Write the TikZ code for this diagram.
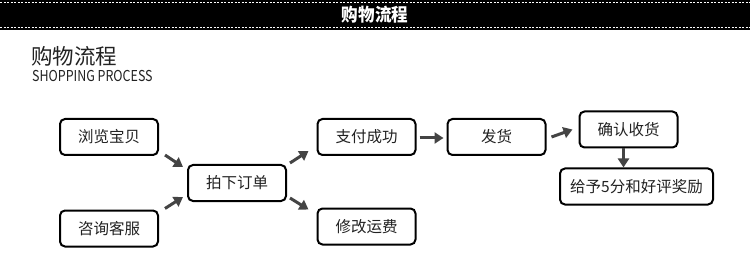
\documentclass[tikz,border=0pt]{standalone}
\usepackage{fontspec}
\setmainfont{Noto Sans CJK SC}
\usetikzlibrary{arrows.meta,calc}
\definecolor{txt}{HTML}{222222}
\definecolor{arrc}{HTML}{444444}
\tikzset{
  box/.style={draw=black, line width=2pt, rounded corners=5pt, minimum height=36pt, minimum width=98pt, inner sep=0pt, font=\fontsize{15.5}{15.5}\selectfont, text=txt},
  arr/.style={draw=arrc, line width=3pt, -{Triangle[length=9pt,width=11pt]}},
}
\begin{document}
\begin{tikzpicture}[x=1pt,y=-1pt]
\useasboundingbox (0,0) rectangle (750,259);
\fill[white] (0,0) rectangle (750,259);
% top band
\fill[black] (0,0) rectangle (750,30);
\draw[white, line width=1.2pt, dash pattern=on 2pt off 1.5pt] (0,2.5) -- (750,2.5);
\draw[white, line width=1.2pt, dash pattern=on 2pt off 1.5pt] (0,27.5) -- (750,27.5);
\node[text=white, font=\fontsize{18}{18}\selectfont\bfseries, inner sep=0pt] (bandtitle) at (375,15) {\scalebox{0.92}[1]{购物流程}};
% heading
\node[anchor=west, text=txt, font=\fontsize{21.5}{21.5}\selectfont, inner sep=0pt] (head) at (31,56) {购物流程};
\node[anchor=west, text=txt, font=\fontsize{15}{15}\selectfont, inner sep=0pt] (sub) at (32,76.5) {\scalebox{0.83}[1]{SHOPPING PROCESS}};
% boxes
\node[box] (b1) at (109,137) {浏览宝贝};
\node[box] (b2) at (109,228.5) {咨询客服};
\node[box] (order) at (237,183) {拍下订单};
\node[box] (pay) at (366.5,137) {支付成功};
\node[box] (fee) at (366.5,226.5) {修改运费};
\node[box] (ship) at (496.5,137) {发货};
\node[box] (confirm) at (628.5,129.5) {确认收货};
\node[box, minimum width=153pt] (reward) at (636.5,186.5) {给予5分和好评奖励};
% arrows
\draw[arr] ($(b1.south east)+(6,-1)$) -- ($(order.north west)+(-4,3)$);
\draw[arr] ($(b2.north east)+(6,-1)$) -- ($(order.south west)+(-4,-5)$);
\draw[arr] ($(order.north east)+(3,-1)$) -- ($(pay.south west)+(-8,-5)$);
\draw[arr] ($(order.south east)+(3,-4)$) -- ($(fee.north west)+(-8,2)$);
\draw[arr] ($(pay.east)+(3,1)$) -- ($(ship.west)+(-3,1)$);
\draw[arr] ($(ship.east)+(5,0)$) -- ($(confirm.west)+(-6,0)$);
\coordinate (cs) at ($(confirm.south)+(-5,0)$);
\draw[arr] (cs) -- (cs |- reward.north);
\end{tikzpicture}
\end{document}
